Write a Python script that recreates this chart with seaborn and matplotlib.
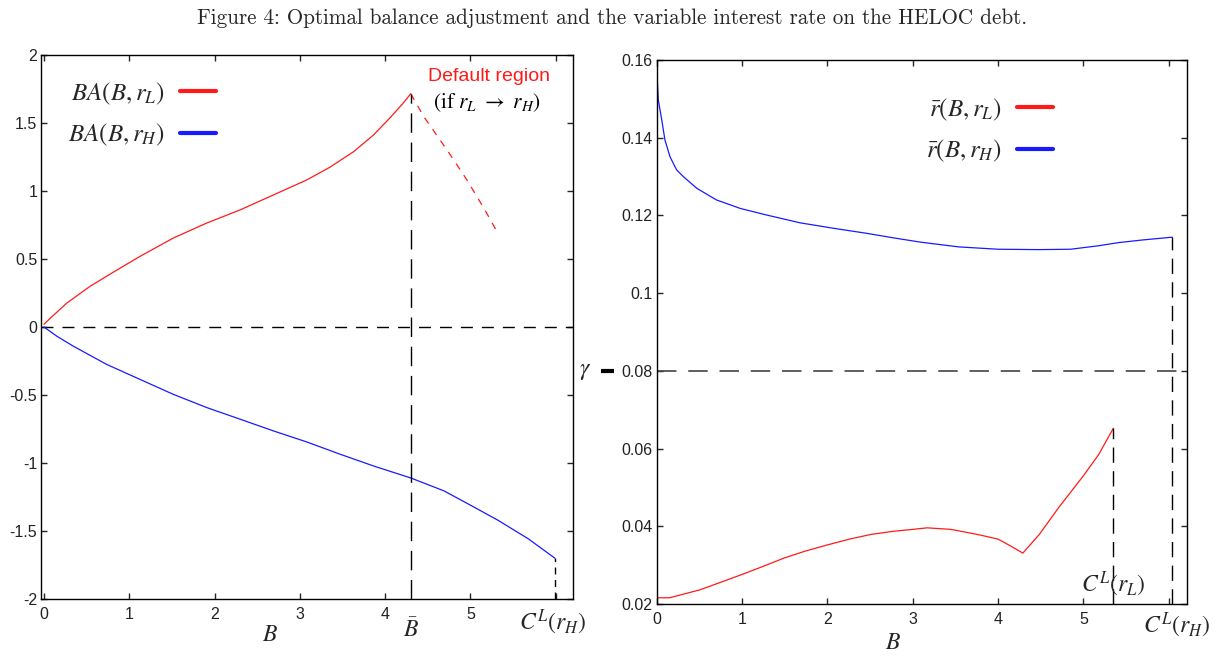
import matplotlib
matplotlib.use("Agg")
import matplotlib.pyplot as plt
import matplotlib.transforms as mtransforms
from matplotlib.lines import Line2D
import seaborn as sns

# ---------------- data ----------------
# Left panel: balance adjustment BA(B, r)
ba_B_low = [0.0, 0.07, 0.266, 0.54, 0.81, 1.125, 1.516, 1.907, 2.30, 2.69, 3.08, 3.35, 3.63,
            3.86, 4.06, 4.21, 4.30]
ba_low = [0.02, 0.062, 0.175, 0.299, 0.402, 0.519, 0.654, 0.764, 0.861, 0.971, 1.081, 1.174,
          1.289, 1.41, 1.54, 1.645, 1.715]

ba_B_default = [4.30, 4.45, 4.76, 4.96, 5.17, 5.33]
ba_default = [1.715, 1.55, 1.27, 1.08, 0.86, 0.68]

ba_B_high = [0.0, 0.149, 0.344, 0.735, 1.125, 1.516, 1.907, 2.30, 2.69, 3.08, 3.47, 3.86, 4.30,
             4.69, 5.0, 5.32, 5.68, 5.99]
ba_high = [0.0, -0.067, -0.141, -0.275, -0.385, -0.495, -0.592, -0.678, -0.764, -0.845, -0.935,
           -1.021, -1.11, -1.205, -1.31, -1.42, -1.558, -1.70]

# Right panel: variable interest rate rbar(B, r)
r_B_low = [0.0, 0.15, 0.5, 0.74, 1.0, 1.25, 1.49, 1.74, 2.0, 2.26, 2.51, 2.77, 3.0, 3.17, 3.45,
           3.78, 4.0, 4.15, 4.29, 4.48, 4.71, 5.0, 5.18, 5.35]
r_low = [0.0216, 0.0216, 0.0236, 0.0255, 0.0276, 0.0297, 0.0318, 0.0336, 0.0352, 0.0367, 0.0379,
         0.0387, 0.0392, 0.0396, 0.0392, 0.0378, 0.0367, 0.0349, 0.0331, 0.0378, 0.0448, 0.0530,
         0.0585, 0.0652]

r_B_high = [0.0, 0.02, 0.06, 0.098, 0.157, 0.235, 0.313, 0.47, 0.70, 0.98, 1.29, 1.68, 2.07,
            2.46, 2.81, 3.1, 3.54, 4.0, 4.48, 4.85, 5.18, 5.41, 5.7, 6.04]
r_high = [0.1583, 0.1497, 0.1446, 0.1394, 0.1351, 0.1317, 0.1300, 0.1270, 0.1240, 0.1218, 0.1201,
          0.1181, 0.1167, 0.1154, 0.1141, 0.1131, 0.1119, 0.1113, 0.1112, 0.1113, 0.1122, 0.1130,
          0.1137, 0.1144]

gamma = 0.08

left_xticks = [0, 1, 2, 3, 4, 5, 6]
left_xticklabels = ["0", "1", "2", "3", "4", "5", ""]
left_yticks = [-2, -1.5, -1, -0.5, 0, 0.5, 1, 1.5, 2]
left_yticklabels = ["-2", "-1.5", "-1", "-0.5", "0", "0.5", "1", "1.5", "2"]
right_xticks = [0, 1, 2, 3, 4, 5, 6]
right_xticklabels = ["0", "1", "2", "3", "4", "5", ""]
right_yticks = [0.02, 0.04, 0.06, 0.08, 0.10, 0.12, 0.14, 0.16]
right_yticklabels = ["0.02", "0.04", "0.06", "0.08", "0.1", "0.12", "0.14", "0.16"]

title = "Figure 4: Optimal balance adjustment and the variable interest rate on the HELOC debt."

# ---------------- style ----------------
sns.set_style("ticks")
plt.rcParams["font.family"] = ["Liberation Sans", "DejaVu Sans"]
plt.rcParams["mathtext.fontset"] = "stix"
plt.rcParams["lines.scale_dashes"] = False

RED = "#ff1a1a"
BLUE = "#1a1aff"
TXT = "#222222"

W, H = 1225, 658
fig = plt.figure(figsize=(W / 100, H / 100), dpi=100)


def rect(l, t, r, b):
    return [l / W, 1 - b / H, (r - l) / W, (b - t) / H]


ax1 = fig.add_axes(rect(41.4, 55, 572.8, 599))
ax2 = fig.add_axes(rect(656.6, 60, 1186.7, 604))

for ax in (ax1, ax2):
    for s in ax.spines.values():
        s.set_linewidth(1.0)
        s.set_color("black")
    ax.tick_params(direction="in", top=True, right=True, length=4, width=1.0,
                   labelsize=11.5, labelcolor=TXT, pad=3)
    ax.tick_params(axis="x", pad=6)

# ---------------- left panel ----------------
sns.lineplot(x=ba_B_low, y=ba_low, ax=ax1, color=RED, lw=0.9, sort=False)
sns.lineplot(x=ba_B_default, y=ba_default, ax=ax1, color=RED, lw=0.9, sort=False,
             linestyle=(0, (5.0, 5.0)))
sns.lineplot(x=ba_B_high, y=ba_high, ax=ax1, color=BLUE, lw=0.9, sort=False)

ax1.axhline(0, color="black", lw=1.0, linestyle=(0, (8.6, 6.5)), zorder=1)
ax1.vlines(ba_B_low[-1], -2, ba_low[-1], color="black", lw=1.0, linestyle=(0, (14, 7)))
ax1.vlines(ba_B_high[-1], -2, ba_high[-1], color="black", lw=1.0, linestyle=(0, (5, 4)))

ax1.set_xlim(-0.03, 6.2)
ax1.set_ylim(-2, 2)
ax1.set_xticks(left_xticks)
ax1.set_xticklabels(left_xticklabels)
ax1.set_yticks(left_yticks)
ax1.set_yticklabels(left_yticklabels)
ax1.set_xlabel("")
ax1.set_ylabel("")

h1 = [Line2D([], [], color=RED, lw=3), Line2D([], [], color=BLUE, lw=3)]
ax1.legend(h1, [r"$BA(B,r_L)$", r"$BA(B,r_H)$"], loc="upper left",
           bbox_to_anchor=(0.050, 0.953), frameon=False, fontsize=18,
           borderaxespad=0, borderpad=0,
           markerfirst=False, handlelength=1.45, handletextpad=0.6, labelspacing=0.6)

ax1.text(0.843, 0.96, "Default region", transform=ax1.transAxes, color=RED,
         fontsize=14, ha="center", va="center")
ax1.text(0.839, 0.912, r"$(\mathrm{if}\ r_L\ \rightarrow\ r_H)$", transform=ax1.transAxes,
         color="black", fontsize=15.5, ha="center", va="center")

bx1 = mtransforms.blended_transform_factory(ax1.transData, ax1.transAxes)
ax1.text(2.65, -0.066, r"$B$", transform=bx1, fontsize=17, ha="center", va="center")
ax1.text(ba_B_low[-1], -0.057, r"$\bar{B}$", transform=bx1, fontsize=17, ha="center", va="center")
ax1.text(5.97, -0.044, r"$C^L(r_H)$", transform=bx1, fontsize=17, ha="center", va="center")

# ---------------- right panel ----------------
sns.lineplot(x=r_B_low, y=r_low, ax=ax2, color=RED, lw=0.9, sort=False)
sns.lineplot(x=r_B_high, y=r_high, ax=ax2, color=BLUE, lw=0.9, sort=False)

ax2.axhline(gamma, color="#444444", lw=1.2, linestyle=(0, (14, 8.5)), zorder=1)
ax2.vlines(r_B_low[-1], 0.02, r_low[-1], color="black", lw=1.0, linestyle=(0, (11, 6)))
ax2.vlines(r_B_high[-1], 0.02, r_high[-1], color="black", lw=1.0, linestyle=(0, (11, 6)))

ax2.set_xlim(0, 6.21)
ax2.set_ylim(0.02, 0.16)
ax2.set_xticks(right_xticks)
ax2.set_xticklabels(right_xticklabels)
ax2.set_yticks(right_yticks)
ax2.set_yticklabels(right_yticklabels)
ax2.set_xlabel("")
ax2.set_ylabel("")

h2 = [Line2D([], [], color=RED, lw=3), Line2D([], [], color=BLUE, lw=3)]
ax2.legend(h2, [r"$\bar{r}(B,r_L)$", r"$\bar{r}(B,r_H)$"], loc="upper left",
           bbox_to_anchor=(0.509, 0.933), frameon=False, fontsize=18,
           borderaxespad=0, borderpad=0,
           markerfirst=False, handlelength=1.45, handletextpad=0.6, labelspacing=0.6)

by2 = mtransforms.blended_transform_factory(ax2.transAxes, ax2.transData)
ax2.text(-0.135, gamma, r"$\gamma$", transform=by2, fontsize=17, ha="center", va="center")
ax2.plot([-0.105, -0.080], [gamma, gamma], transform=by2, color="black", lw=3,
         solid_capstyle="butt", clip_on=False)

bx2 = mtransforms.blended_transform_factory(ax2.transData, ax2.transAxes)
ax2.text(2.77, -0.072, r"$B$", transform=bx2, fontsize=17, ha="center", va="center")
ax2.text(6.09, -0.039, r"$C^L(r_H)$", transform=bx2, fontsize=17, ha="center", va="center")
ax2.text(r_B_low[-1], 0.035, r"$C^L(r_L)$", transform=bx2, fontsize=17, ha="center", va="center")

fig.text(0.5, 1 - 18 / H, title, fontfamily="cmr10", fontsize=15.2, ha="center", va="center")

fig.savefig("out.png", dpi=100)
